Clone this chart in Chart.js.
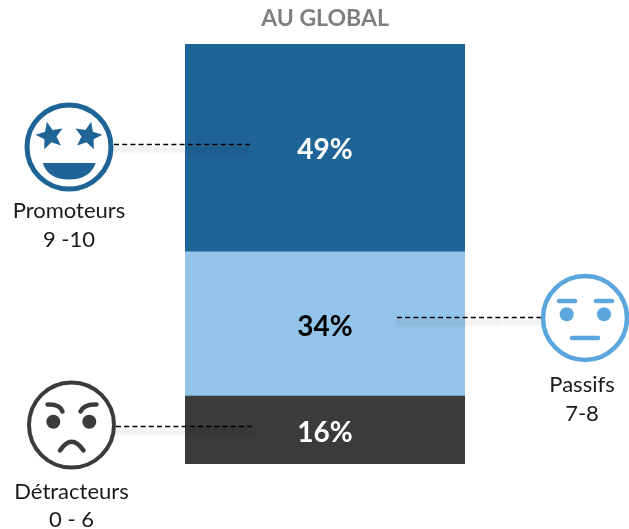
<!DOCTYPE html>
<html lang="fr">
<head>
<meta charset="utf-8">
<style>html,body{margin:0;padding:0;background:#fff}canvas{display:block}</style>
<script src="https://cdn.jsdelivr.net/npm/chart.js@4"></script>
</head>
<body>
<canvas id="c" width="629" height="529"></canvas>
<script>
const categories = ['AU GLOBAL'];
const segmentNames = ['Détracteurs', 'Passifs', 'Promoteurs'];
const segmentValues = [16, 34, 49];
const segmentColors = ['#3b3b3b', '#92c3e8', '#1f6496'];
const labelColors = ['#ffffff', '#000000', '#ffffff'];
const segmentRanges = ['0 - 6', '7-8', '9 -10'];
const FONT = 'Lato, Carlito, "Open Sans", sans-serif';

function ring(ctx, x, y, r, color, lw) {
  ctx.strokeStyle = color; ctx.lineWidth = lw;
  ctx.beginPath(); ctx.arc(x, y, r, 0, Math.PI * 2); ctx.stroke();
}
function dot(ctx, x, y, r, color) {
  ctx.fillStyle = color;
  ctx.beginPath(); ctx.arc(x, y, r, 0, Math.PI * 2); ctx.fill();
}
function star(ctx, x, y, R, rot, color) {
  ctx.fillStyle = color; ctx.beginPath();
  for (let i = 0; i < 10; i++) {
    const r = i % 2 ? R * 0.45 : R;
    const a = rot - Math.PI / 2 + i * Math.PI / 5;
    ctx.lineTo(x + r * Math.cos(a), y + r * Math.sin(a));
  }
  ctx.closePath(); ctx.fill();
}
function bar(ctx, x1, y1, x2, y2, color, lw) {
  ctx.strokeStyle = color; ctx.lineWidth = lw; ctx.lineCap = 'round';
  ctx.beginPath(); ctx.moveTo(x1, y1); ctx.lineTo(x2, y2); ctx.stroke();
  ctx.lineCap = 'butt';
}
function promoterFace(ctx) {
  const c = segmentColors[2];
  ring(ctx, 69, 147, 42, c, 5);
  star(ctx, 50, 136, 14.5, -0.22, c);
  star(ctx, 88, 136, 14.5, 0.22, c);
  ctx.fillStyle = c; ctx.beginPath();
  ctx.moveTo(42.7, 163); ctx.lineTo(95.7, 163);
  ctx.quadraticCurveTo(90, 179.5, 69, 179.5);
  ctx.quadraticCurveTo(48, 179.5, 42.7, 163);
  ctx.closePath(); ctx.fill();
}
function passiveFace(ctx) {
  const c = '#5ba7dd';
  ring(ctx, 585, 318, 42, c, 4.5);
  bar(ctx, 559, 301, 575, 301, c, 4.5);
  bar(ctx, 596, 301, 612, 301, c, 4.5);
  dot(ctx, 566.7, 314.3, 7, c);
  dot(ctx, 604, 314.3, 7, c);
  bar(ctx, 572, 338, 598, 338, c, 4.5);
}
function detractorFace(ctx) {
  const c = segmentColors[0];
  ring(ctx, 71.5, 425, 42.5, c, 4);
  ctx.strokeStyle = c; ctx.lineWidth = 4.5; ctx.lineCap = 'round';
  ctx.beginPath(); ctx.moveTo(47.5, 404.5); ctx.quadraticCurveTo(60, 404, 62.5, 411.5); ctx.stroke();
  ctx.beginPath(); ctx.moveTo(96.5, 404.5); ctx.quadraticCurveTo(84, 404, 80.5, 411.5); ctx.stroke();
  ctx.beginPath(); ctx.moveTo(60, 450.5); ctx.quadraticCurveTo(71.7, 433, 83.5, 450.5); ctx.stroke();
  ctx.lineCap = 'butt';
  dot(ctx, 53.3, 421.7, 7, c);
  dot(ctx, 89.3, 421.7, 7, c);
}
function leader(ctx, x1, x2, y) {
  ctx.save();
  ctx.setLineDash([5, 3.2]);
  ctx.strokeStyle = '#000'; ctx.lineWidth = 1.3;
  ctx.shadowColor = 'rgba(0,0,0,0.4)'; ctx.shadowBlur = 5; ctx.shadowOffsetY = 5;
  ctx.beginPath(); ctx.moveTo(x1, y + 0.5); ctx.lineTo(x2, y + 0.5); ctx.stroke();
  ctx.restore();
}
function caption(ctx, name, range, x, y1, y2) {
  ctx.fillStyle = '#1a1a1a';
  ctx.font = '22px ' + FONT;
  ctx.textAlign = 'center'; ctx.textBaseline = 'middle';
  ctx.fillText(name, x, y1);
  ctx.fillText(range, x, y2);
}

const overlays = {
  id: 'overlays',
  afterDatasetsDraw(chart) {
    const ctx = chart.ctx;
    ctx.save();
    segmentValues.forEach((v, i) => {
      const el = chart.getDatasetMeta(i).data[0];
      ctx.fillStyle = labelColors[i];
      ctx.font = 'bold 28px ' + FONT;
      ctx.textAlign = 'center'; ctx.textBaseline = 'middle';
      ctx.fillText(v + '%', el.x, (el.y + el.base) / 2 + 2.5);
    });
    leader(ctx, 114, 250, 144);
    leader(ctx, 397, 541, 317);
    leader(ctx, 116, 252, 426);
    promoterFace(ctx); passiveFace(ctx); detractorFace(ctx);
    caption(ctx, segmentNames[2], segmentRanges[2], 69, 211, 240);
    caption(ctx, segmentNames[1], segmentRanges[1], 582, 385, 414);
    caption(ctx, segmentNames[0], segmentRanges[0], 71.5, 492, 520);
    ctx.restore();
  }
};

new Chart(document.getElementById('c'), {
  type: 'bar',
  data: {
    labels: categories,
    datasets: segmentNames.map((name, i) => ({
      label: name,
      data: [segmentValues[i]],
      backgroundColor: segmentColors[i],
      borderWidth: 0,
      barPercentage: 1,
      categoryPercentage: 1
    }))
  },
  options: {
    responsive: false,
    animation: false,
    devicePixelRatio: 1,
    layout: { padding: { left: 185, right: 164, top: 0, bottom: 65 } },
    scales: {
      x: { stacked: true, display: false },
      y: { stacked: true, display: false, min: 0, max: 99 }
    },
    plugins: {
      legend: { display: false },
      tooltip: { enabled: false },
      title: {
        display: true,
        text: categories[0],
        color: '#7f7f7f',
        font: { family: FONT, size: 23, weight: 'bold', lineHeight: 1.2 },
        padding: { top: 5, bottom: 11.4 }
      }
    }
  },
  plugins: [overlays]
});
</script>
</body>
</html>
